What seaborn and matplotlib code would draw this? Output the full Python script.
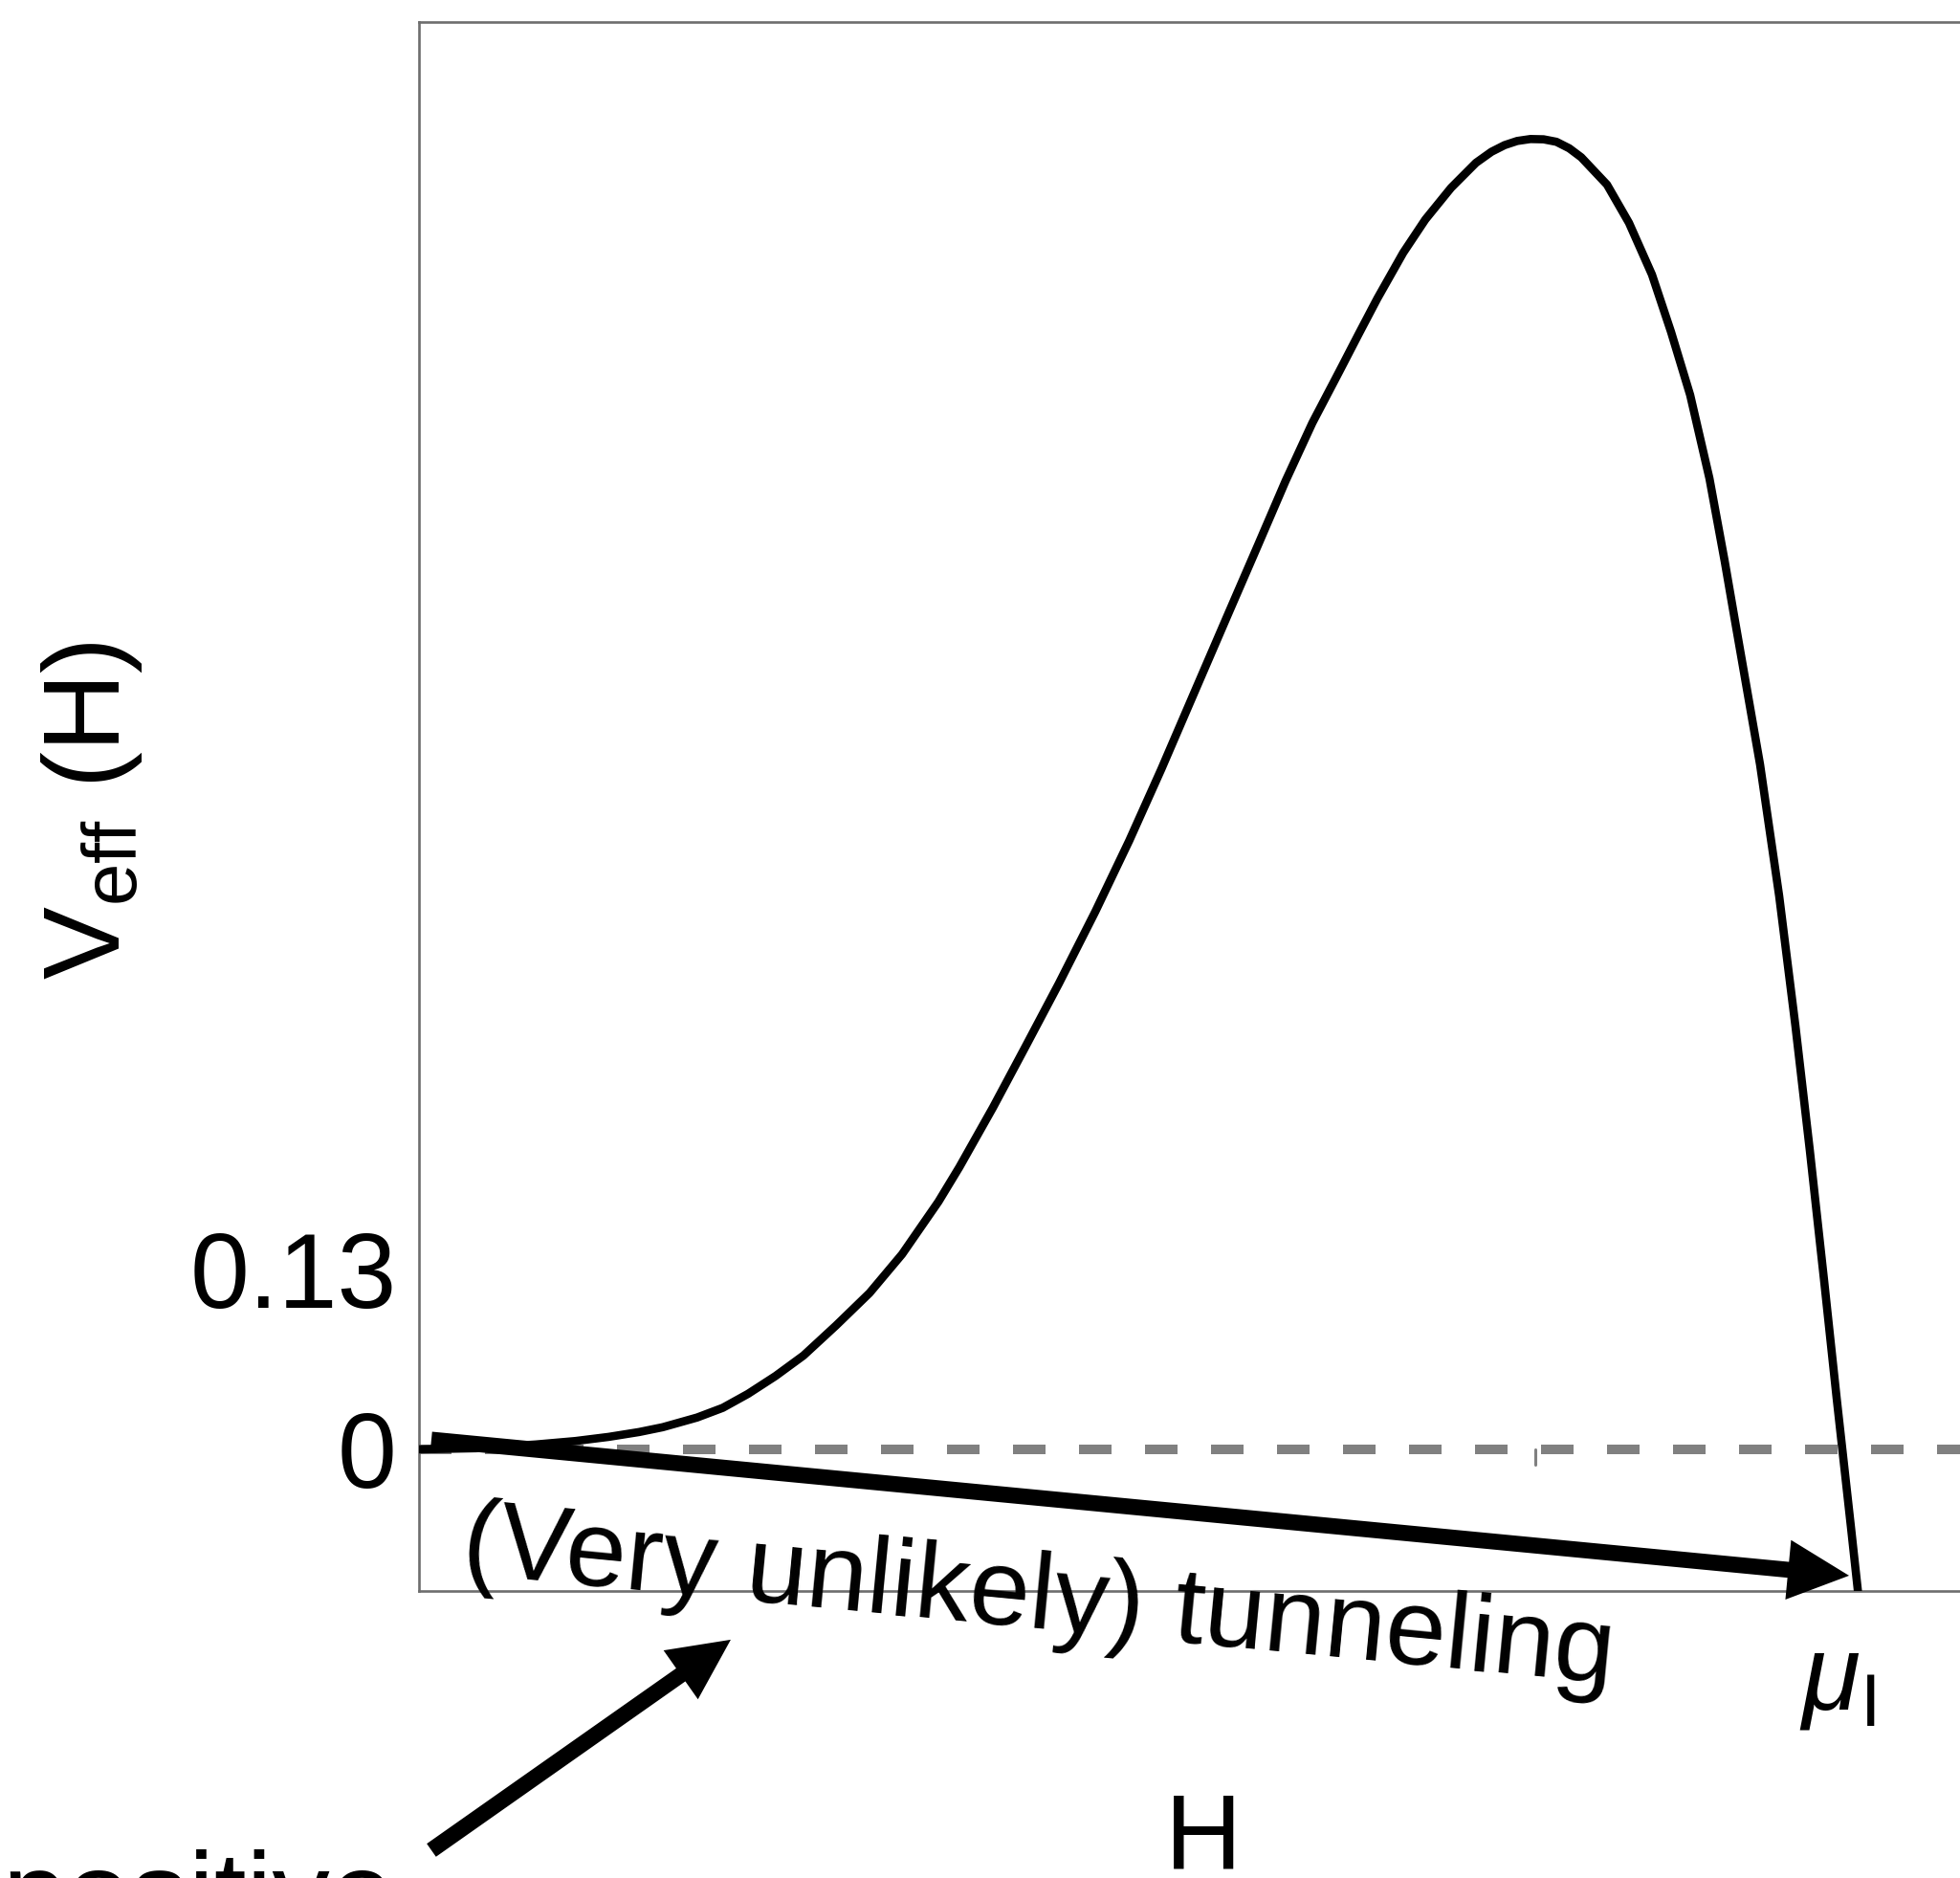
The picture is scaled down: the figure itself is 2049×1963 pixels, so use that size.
import numpy as np
import pandas as pd
import matplotlib
matplotlib.use("Agg")
import matplotlib.pyplot as plt
import matplotlib.transforms as mtransforms
import seaborn as sns

# curve (H in units of mu_I, V in plot units)
H_vals = [0.0, 0.04, 0.0818, 0.1096, 0.1330, 0.1543, 0.1709, 0.1950, 0.2130, 0.2307,
          0.2500, 0.2696, 0.2924, 0.3159, 0.3387, 0.3642, 0.3789, 0.4024, 0.4252, 0.4487,
          0.4742, 0.4980, 0.5205, 0.5440, 0.5667, 0.5880, 0.6076, 0.6264, 0.6452,
          0.6586, 0.6720, 0.6901, 0.7056, 0.7237, 0.7411, 0.7520, 0.7612, 0.7700, 0.7793,
          0.7885, 0.7975, 0.8065, 0.8149, 0.8330, 0.8484, 0.8645, 0.8779, 0.8913, 0.9048,
          0.9155, 0.9222, 0.9403, 0.9537, 0.9651, 0.9752, 0.9852, 0.9940, 1.0040, 1.0089]
V_vals = [0.0, 0.0008, 0.0035, 0.0060, 0.0090, 0.0125, 0.0160, 0.0230, 0.0300, 0.0401,
          0.0530, 0.0678, 0.0895, 0.1130, 0.1410, 0.1790, 0.2040, 0.2470, 0.2910, 0.3368,
          0.3887, 0.4400, 0.4917, 0.5480, 0.6023, 0.6530, 0.7000, 0.7420, 0.7790,
          0.8057, 0.8320, 0.8650, 0.8890, 0.9120, 0.9300, 0.9380, 0.9428, 0.9458, 0.9472,
          0.9470, 0.9452, 0.9405, 0.9340, 0.9142, 0.8866, 0.8492, 0.8077, 0.7621, 0.7019,
          0.6420, 0.6020, 0.4950, 0.4000, 0.3060, 0.2160, 0.1220, 0.0370, -0.0560, -0.1024]

y_ticks = [0, 0.13]
y_tick_labels = ["0", "0.13"]
x_ticks = [1.0]
x_tick_labels = [r"$\mu_{\mathrm{I}}$"]
axis_tick_H = [0.7827]

# arrows: (tail, tip) in data units
tunnel_arrow = [(0.0087, 0.007), (1.0027, -0.0913)]
pointer_arrow = [(0.0087, -0.2898), (0.2186, -0.1376)]
tunnel_text = "(Very unlikely) tunneling"
tunnel_text_pos = (0.029, -0.0893)

sns.set_style("white")
plt.rcParams['font.family'] = ['Liberation Sans', 'DejaVu Sans']
plt.rcParams['mathtext.fontset'] = 'custom'
plt.rcParams['mathtext.rm'] = 'Liberation Sans'
plt.rcParams['mathtext.it'] = 'Liberation Sans:italic'
plt.rcParams['text.color'] = 'black'
plt.rcParams['axes.labelcolor'] = 'black'

W, Hpx = 2049, 1963
fig = plt.figure(figsize=(W / 100, Hpx / 100), dpi=100)
ax = fig.add_axes([438 / W, 1 - 1663 / Hpx, (W - 438) / W, (1663 - 23) / Hpx])

df = pd.DataFrame({"H": H_vals, "V": V_vals})
ax.axhline(0, color="#808080", lw=7.2, dashes=(3.4, 3.5), zorder=1)
ax.plot([axis_tick_H[0]] * 2, [0, -0.011], color="#808080", lw=2.2, zorder=1)
sns.lineplot(data=df, x="H", y="V", color="black", lw=6.2, sort=False, ax=ax, zorder=3)

ax.set_xlim(0, (W - 438) / 1491)
ax.set_ylim(-0.1024, 1.0318)

for s in ["left", "top", "bottom"]:
    ax.spines[s].set_color("#6e6e6e")
    ax.spines[s].set_linewidth(1.9)
ax.spines["right"].set_visible(False)

ax.set_yticks(y_ticks)
ax.set_yticklabels(y_tick_labels)
ax.set_xticks(x_ticks)
ax.set_xticklabels(x_tick_labels)
ax.tick_params(axis="both", direction="in", length=17, width=1.9, color="#6e6e6e",
               labelsize=80, labelcolor="black")
ax.tick_params(axis="y", pad=17)
ax.tick_params(axis="x", pad=31)
shift = mtransforms.ScaledTranslation(-8 / 100, 0, fig.dpi_scale_trans)
for lbl in ax.get_xticklabels():
    lbl.set_transform(lbl.get_transform() + shift)

ax.set_xlabel("H", fontsize=80, color="black")
ax.xaxis.set_label_coords((1258 - 438) / (W - 438), -0.128)
ax.set_ylabel("")
fig.text(96 / W, 1 - 847 / Hpx, r"V$_{\mathrm{eff}}$ (H)", rotation=90,
         ha="center", va="center", fontsize=82, color="black")

for tail, tip in [tunnel_arrow, pointer_arrow]:
    ax.annotate("", xy=tip, xytext=tail, xycoords="data", textcoords="data",
                annotation_clip=False,
                arrowprops=dict(arrowstyle="simple,head_length=4.6,head_width=4.5,tail_width=1.2",
                                mutation_scale=10, fc="black", ec="none", lw=0,
                                shrinkA=0, shrinkB=0))

ax.text(tunnel_text_pos[0], tunnel_text_pos[1], tunnel_text, fontsize=82, color="black",
        rotation=-5.47, rotation_mode="anchor", ha="left", va="baseline",
        family=['Liberation Sans Narrow', 'Liberation Sans'], clip_on=False, zorder=4)

fig.text(412 / W, 1 - 2020 / Hpx, "positive", fontsize=87, ha="right", va="baseline",
         color="black")

fig.savefig("out.png", dpi=100)
